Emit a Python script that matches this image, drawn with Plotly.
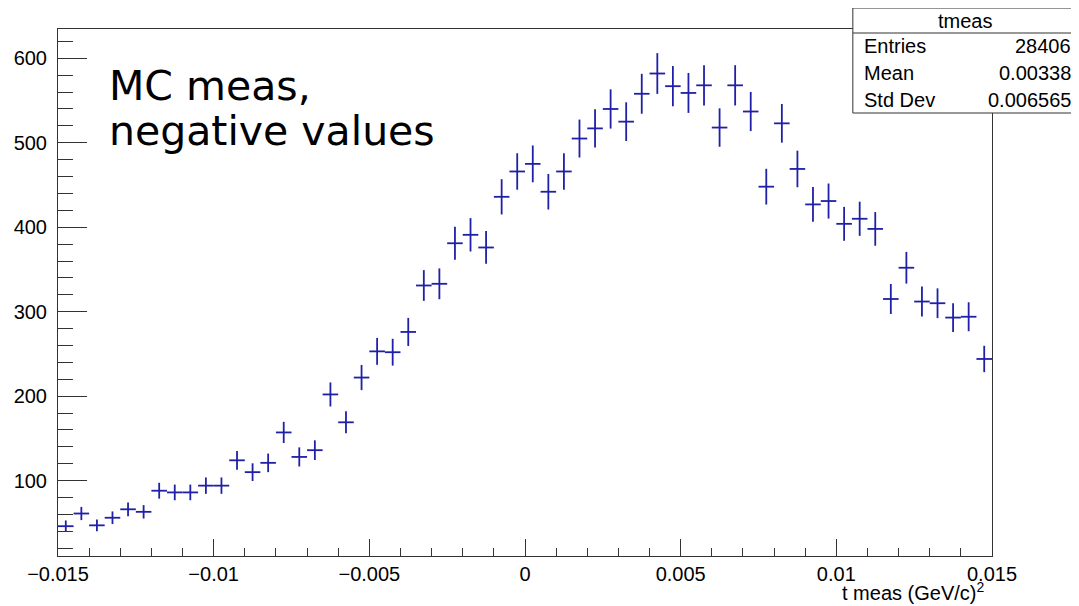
import numpy as np
import plotly.graph_objects as go

# --- data (60 bins, -0.015 .. 0.015) ---
bin_lo = -0.015
bin_hi = 0.015
counts = [46, 61, 47, 56, 66, 63, 88, 86, 86, 94,
          94, 124, 110, 121, 157, 128, 136, 202, 169, 222,
          253, 252, 276, 331, 333, 381, 391, 376, 436, 466,
          475, 442, 466, 505, 517, 540, 525, 558, 582, 567,
          559, 568, 518, 568, 537, 448, 523, 469, 427, 431,
          404, 410, 398, 315, 352, 312, 310, 293, 294, 244]

x_tick_vals = [-0.015, -0.01, -0.005, 0, 0.005, 0.01, 0.015]
x_tick_text = ['\u22120.015', '\u22120.01', '\u22120.005', '0', '0.005', '0.01', '0.015']
y_tick_vals = [100, 200, 300, 400, 500, 600]

stat_title = 'tmeas'
stat_names = ['Entries', 'Mean', 'Std Dev']
stat_values = ['28406', '0.00338', '0.006565']

label_lines = ['MC meas,', 'negative values']

n_bins = len(counts)
width = (bin_hi - bin_lo) / n_bins
centers = bin_lo + width * (np.arange(n_bins) + 0.5)
errors = np.sqrt(counts)

col = '#1f1fa8'
axcol = '#333333'
helv = 'Liberation Sans, Arial, sans-serif'
tick_font = dict(family=helv, size=20, color='black')

fig = go.Figure()
fig.add_trace(go.Scatter(
    x=centers,
    y=counts,
    mode='markers',
    marker=dict(size=0, opacity=0, color=col),
    error_y=dict(type='data', array=errors, width=0, thickness=1.8, color=col),
    error_x=dict(type='constant', value=width / 2, width=0, thickness=1.8, color=col),
    showlegend=False,
    hoverinfo='x+y'
))

fig.update_xaxes(
    range=[bin_lo, bin_hi],
    tickvals=x_tick_vals,
    ticktext=x_tick_text,
    ticks='inside', ticklen=17, tickwidth=1, tickcolor=axcol,
    minor=dict(ticks='inside', ticklen=8, dtick=0.001, tick0=0, tickcolor=axcol),
    showline=True, linecolor=axcol, linewidth=1, mirror=True,
    showgrid=False, zeroline=False, automargin=False,
    tickfont=tick_font
)
fig.update_yaxes(
    range=[10.7, 634.7],
    tickvals=y_tick_vals,
    ticks='inside', ticklen=29, tickwidth=1, tickcolor=axcol,
    minor=dict(ticks='inside', ticklen=15, dtick=20, tick0=0, tickcolor=axcol),
    showline=True, linecolor=axcol, linewidth=1, mirror=True,
    showgrid=False, zeroline=False, automargin=False,
    tickfont=tick_font,
    ticklabelstandoff=6
)

# stat box
bx0, bx1 = 0.851, 1.091
by0, by1, bsep = 0.8406, 1.0398, 0.9924
fig.add_shape(type='rect', xref='paper', yref='paper', x0=bx0, x1=bx1, y0=by0, y1=by1,
              line=dict(color=axcol, width=1), fillcolor='white', layer='above')
fig.add_shape(type='line', xref='paper', yref='paper', x0=bx0, x1=bx1, y0=bsep, y1=bsep,
              line=dict(color=axcol, width=1), layer='above')

stat_font = dict(family=helv, size=20, color='black')
fig.add_annotation(xref='paper', yref='paper', x=(bx0 + bx1) / 2, y=(bsep + by1) / 2,
                   text=stat_title, showarrow=False, xanchor='center', yanchor='middle',
                   font=stat_font)
row_h = (bsep - by0) / len(stat_names)
for i, (nm, val) in enumerate(zip(stat_names, stat_values)):
    yy = bsep - row_h * (i + 0.5)
    fig.add_annotation(xref='paper', yref='paper', x=bx0 + 0.01, y=yy, text=nm,
                       showarrow=False, xanchor='left', yanchor='middle', font=stat_font)
    fig.add_annotation(xref='paper', yref='paper', x=bx1 - 0.004, y=yy, text=val,
                       showarrow=False, xanchor='right', yanchor='middle', font=stat_font)

# big label, one annotation per line to control spacing
for yy, line in zip([0.8924, 0.8057], label_lines):
    fig.add_annotation(xref='paper', yref='paper', x=0.0525, y=yy,
                       text=line, showarrow=False,
                       xanchor='left', yanchor='middle', align='left',
                       font=dict(family='DejaVu Sans, sans-serif', size=41, color='black'))

# x axis title
fig.add_annotation(xref='paper', yref='paper', x=0.994, y=-0.068,
                   text='t meas (GeV/c)<sup>2</sup>', showarrow=False,
                   xanchor='right', yanchor='middle',
                   font=dict(family=helv, size=20, color='black'))

# page body has an 8px margin, so the figure is 8px smaller and margins shifted
fig.update_layout(
    width=1071,
    height=598,
    margin=dict(l=50, r=87, t=21, b=50),
    plot_bgcolor='white',
    paper_bgcolor='white',
    hovermode='closest'
)

fig.write_html("out.html")
